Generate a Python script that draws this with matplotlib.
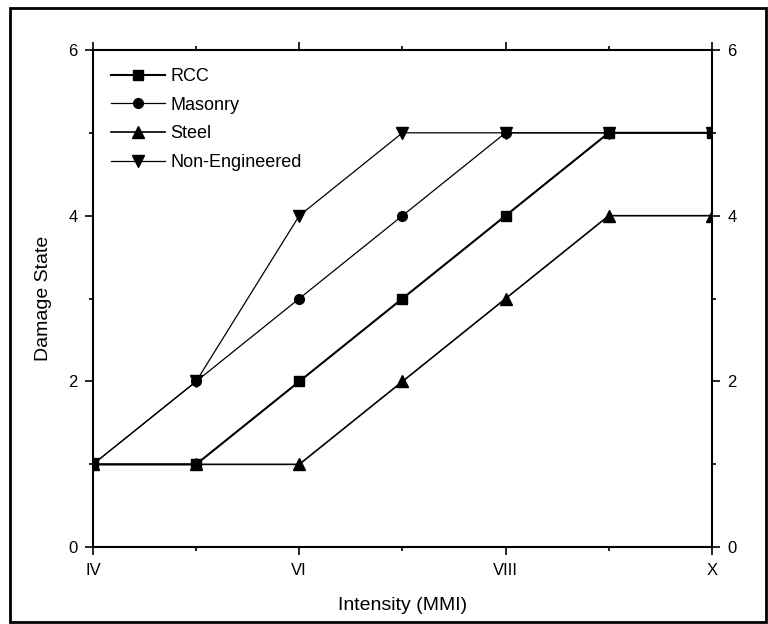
import matplotlib
matplotlib.use('Agg')
import matplotlib.pyplot as plt
from matplotlib.patches import Rectangle

plt.rcParams['font.family'] = ['Liberation Sans', 'DejaVu Sans']

intensity = [4, 5, 6, 7, 8, 9, 10]
rcc = [1, 1, 2, 3, 4, 5, 5]
masonry = [1, 2, 3, 4, 5, 5, 5]
steel = [1, 1, 1, 2, 3, 4, 4]
non_eng = [1, 2, 4, 5, 5, 5, 5]

xticks = [4, 6, 8, 10]
xticklabels = ['IV', 'VI', 'VIII', 'X']
yticks = [0, 2, 4, 6]

fig = plt.figure(figsize=(7.68, 6.24), dpi=100)
ax = fig.add_axes([0.121, 0.123, 0.806, 0.797])

ax.plot(intensity, rcc, '-s', color='black', lw=1.5, ms=7, label='RCC')
ax.plot(intensity, masonry, '-o', color='black', lw=0.9, ms=7, label='Masonry')
ax.plot(intensity, steel, '-^', color='black', lw=1.2, ms=8, label='Steel')
ax.plot(intensity, non_eng, '-v', color='black', lw=0.9, ms=8, label='Non-Engineered')

ax.set_xlim(4, 10)
ax.set_ylim(0, 6)
ax.set_xticks(xticks)
ax.set_xticklabels(xticklabels)
ax.set_xticks([5, 7, 9], minor=True)
ax.set_yticks(yticks)
ax.set_yticks([1, 3, 5], minor=True)

for s in ax.spines.values():
    s.set_linewidth(1.5)

ax.tick_params(which='both', direction='out', top=True, right=True,
               labelright=True, labelsize=12, width=1.2)
ax.tick_params(which='major', length=6, pad=5)
ax.tick_params(which='minor', length=3)

ax.set_xlabel('Intensity (MMI)', fontsize=14, labelpad=14)
ax.set_ylabel('Damage State', fontsize=14, labelpad=12)

ax.legend(loc='upper left', frameon=False, fontsize=13, handlelength=3.0,
          handletextpad=0.3, labelspacing=0.65, borderaxespad=0.6)

fig.patches.append(Rectangle((0.013, 0.004), 0.985, 0.983, transform=fig.transFigure,
                             fill=False, edgecolor='black', lw=2))

fig.savefig('out.png', dpi=100)
